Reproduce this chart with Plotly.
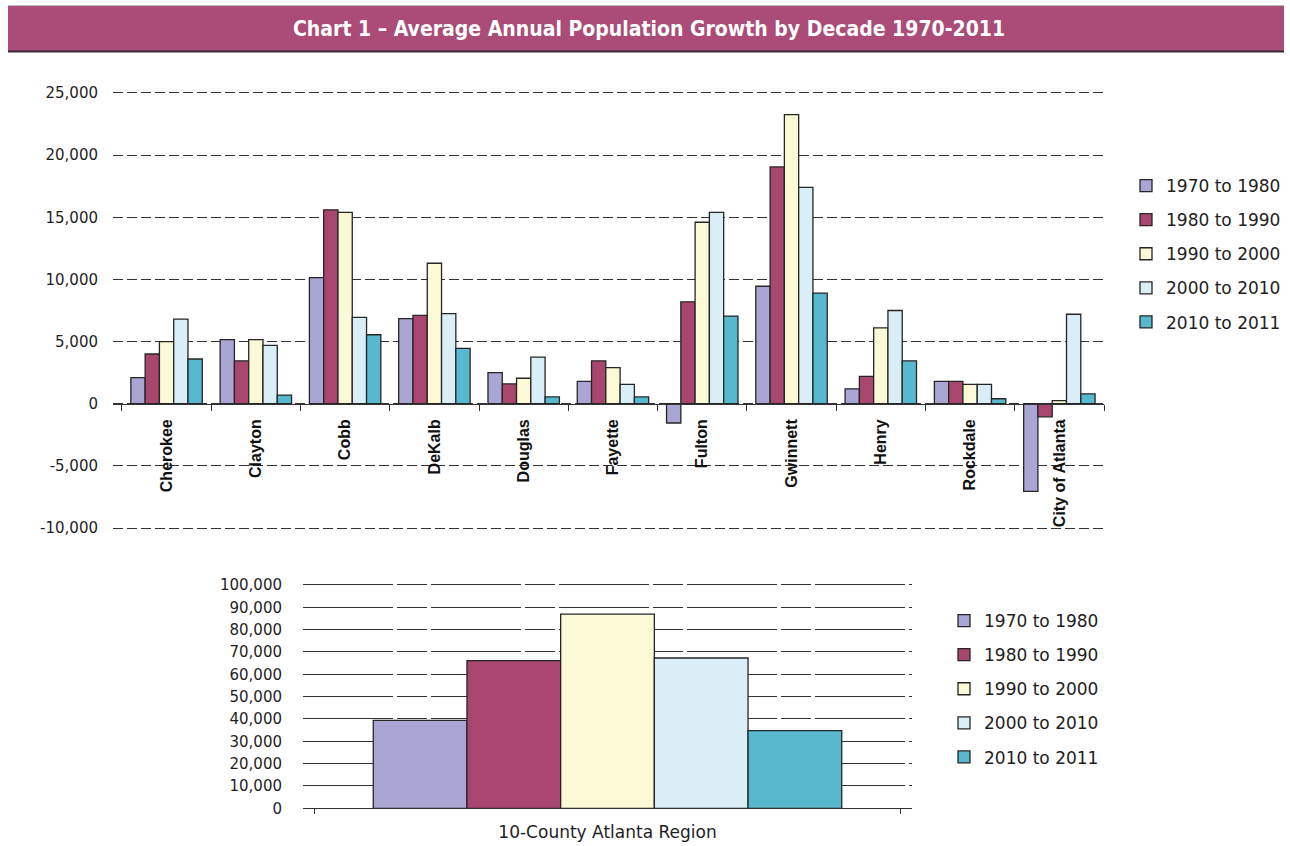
import plotly.graph_objects as go

# Average annual population growth by county and decade
counties = ["Cherokee", "Clayton", "Cobb", "DeKalb", "Douglas", "Fayette",
            "Fulton", "Gwinnett", "Henry", "Rockdale", "City of Atlanta"]
decades = ["1970 to 1980", "1980 to 1990", "1990 to 2000", "2000 to 2010", "2010 to 2011"]

growth_1970_1980 = [2100, 5150, 10150, 6850, 2500, 1800, -1550, 9450, 1200, 1800, -7050]
growth_1980_1990 = [4000, 3450, 15600, 7100, 1600, 3450, 8200, 19050, 2200, 1800, -1050]
growth_1990_2000 = [5000, 5150, 15400, 11300, 2050, 2900, 14600, 23250, 6100, 1550, 250]
growth_2000_2010 = [6800, 4700, 6950, 7250, 3750, 1550, 15400, 17400, 7500, 1550, 7200]
growth_2010_2011 = [3600, 700, 5550, 4450, 550, 550, 7050, 8900, 3450, 400, 800]

# 10-county region totals, one value per decade
region_label = ["10-County Atlanta Region"]
region_growth = [39400, 66100, 86900, 67300, 34750]

# axis tick values
county_ticks = [-10000, -5000, 0, 5000, 10000, 15000, 20000, 25000]
region_ticks = [0, 10000, 20000, 30000, 40000, 50000, 60000, 70000, 80000, 90000, 100000]

colors = ["#A9A6D4", "#A8466F", "#FBF9D6", "#D9EEF7", "#58B8CE"]
county_series = [growth_1970_1980, growth_1980_1990, growth_1990_2000,
                 growth_2000_2010, growth_2010_2011]

W, H = 1290, 846
TEXT = "#1e1e1e"
TICK_FONT = dict(family="DejaVu Sans, Liberation Sans, Arial", size=15, color=TEXT)
LEG_FONT = dict(family="DejaVu Sans, Liberation Sans, Arial", size=17, color=TEXT)


def fmt(v):
    return f"{v:,}"


fig = go.Figure()

for i, (name, vals) in enumerate(zip(decades, county_series)):
    fig.add_trace(go.Bar(
        x=counties, y=vals, name=name, xaxis="x", yaxis="y",
        marker=dict(color=colors[i], line=dict(color="#262626", width=1.3)),
        legend="legend", legendgroup="top%d" % i,
        hovertemplate="%{x}<br>" + name + ": %{y:,}<extra></extra>",
    ))

for i, name in enumerate(decades):
    fig.add_trace(go.Bar(
        x=region_label, y=[region_growth[i]], name=name, xaxis="x2", yaxis="y2",
        marker=dict(color=colors[i], line=dict(color="#262626", width=1.3)),
        legend="legend2", legendgroup="bot%d" % i,
        hovertemplate=name + ": %{y:,}<extra></extra>",
    ))


# pixel helpers for the fixed-size page
def px_x(p):
    return p / W


def px_y(p):
    return 1 - p / H


# a little headroom past the outer ticks so their grid lines are kept
y_lo, y_hi = -10400, 25400
top_dom = [px_y(533), px_y(88)]
y2_hi = 102000
bot_dom = [px_y(808.3), px_y(580.5)]
zero_pos = top_dom[0] + (0 - y_lo) / (y_hi - y_lo) * (top_dom[1] - top_dom[0])

fig.update_layout(
    width=W, height=H,
    margin=dict(l=0, r=0, t=0, b=0, autoexpand=False),
    paper_bgcolor="white", plot_bgcolor="white",
    barmode="group", bargap=0.2, bargroupgap=0,
    font=dict(family="Liberation Sans, Arial", color=TEXT),
    xaxis=dict(
        domain=[px_x(113), px_x(1104)], anchor="free", position=zero_pos,
        range=[-0.6, 10.5], showline=True, linecolor="#333", linewidth=1.3,
        ticks="outside", tickson="boundaries", ticklen=6, tickcolor="#333",
        tickangle=-90, showgrid=False, automargin=False, ticklabelstandoff=8,
        tickfont=dict(family="Liberation Sans, Arial", size=16, color="#111", weight="bold"),
    ),
    yaxis=dict(
        domain=top_dom, anchor="x", range=[y_lo, y_hi],
        tickvals=county_ticks, ticktext=[fmt(v) for v in county_ticks],
        showgrid=True, gridcolor="#333", gridwidth=1.4,
        griddash="10px,4px", zeroline=False, showline=False, ticks="",
        automargin=False, ticklabelstandoff=14, tickfont=TICK_FONT,
    ),
    xaxis2=dict(
        domain=[px_x(303), px_x(912)], anchor="y2", range=[-0.52, 0.52],
        showline=True, linecolor="#333", linewidth=1.3,
        ticks="outside", tickson="boundaries", ticklen=5, tickcolor="#333",
        showgrid=False, ticklabelstandoff=8, automargin=False,
        tickfont=dict(family="DejaVu Sans, Liberation Sans, Arial", size=17, color=TEXT),
    ),
    yaxis2=dict(
        domain=bot_dom, anchor="x2", range=[0, y2_hi],
        tickvals=region_ticks, ticktext=[fmt(v) for v in region_ticks],
        showgrid=True, gridcolor="#333", gridwidth=1.4,
        griddash="90px,4px,30px,4px", zeroline=False, showline=False, ticks="",
        automargin=False, ticklabelstandoff=20, tickfont=TICK_FONT,
    ),
    legend=dict(
        x=px_x(1126), y=px_y(168), xanchor="left", yanchor="top",
        font=LEG_FONT, tracegroupgap=9, bgcolor="rgba(0,0,0,0)",
        traceorder="grouped",
    ),
    legend2=dict(
        x=px_x(944), y=px_y(603), xanchor="left", yanchor="top",
        font=LEG_FONT, tracegroupgap=9, bgcolor="rgba(0,0,0,0)",
        traceorder="grouped",
    ),
    showlegend=True,
)

# title banner
fig.add_shape(type="rect", xref="paper", yref="paper",
              x0=px_x(8), x1=px_x(1284), y0=px_y(51), y1=px_y(6),
              fillcolor="#AB4B78", line=dict(width=0), layer="below")
fig.add_shape(type="line", xref="paper", yref="paper",
              x0=px_x(8), x1=px_x(1284), y0=px_y(51.5), y1=px_y(51.5),
              line=dict(color="#3b2a33", width=2))
fig.add_shape(type="line", xref="paper", yref="paper",
              x0=px_x(8), x1=px_x(1284), y0=px_y(5.5), y1=px_y(5.5),
              line=dict(color="#bbbbbb", width=1))
fig.add_annotation(
    text="Chart 1 \u2013 Average Annual Population Growth by Decade 1970-2011",
    xref="paper", yref="paper", x=px_x(649), y=px_y(29),
    xanchor="center", yanchor="middle", showarrow=False,
    font=dict(family="Liberation Sans Narrow, DejaVu Sans Condensed, Arial Narrow, sans-serif",
              size=21, color="white", weight="bold"),
)

fig.write_html("out.html")
